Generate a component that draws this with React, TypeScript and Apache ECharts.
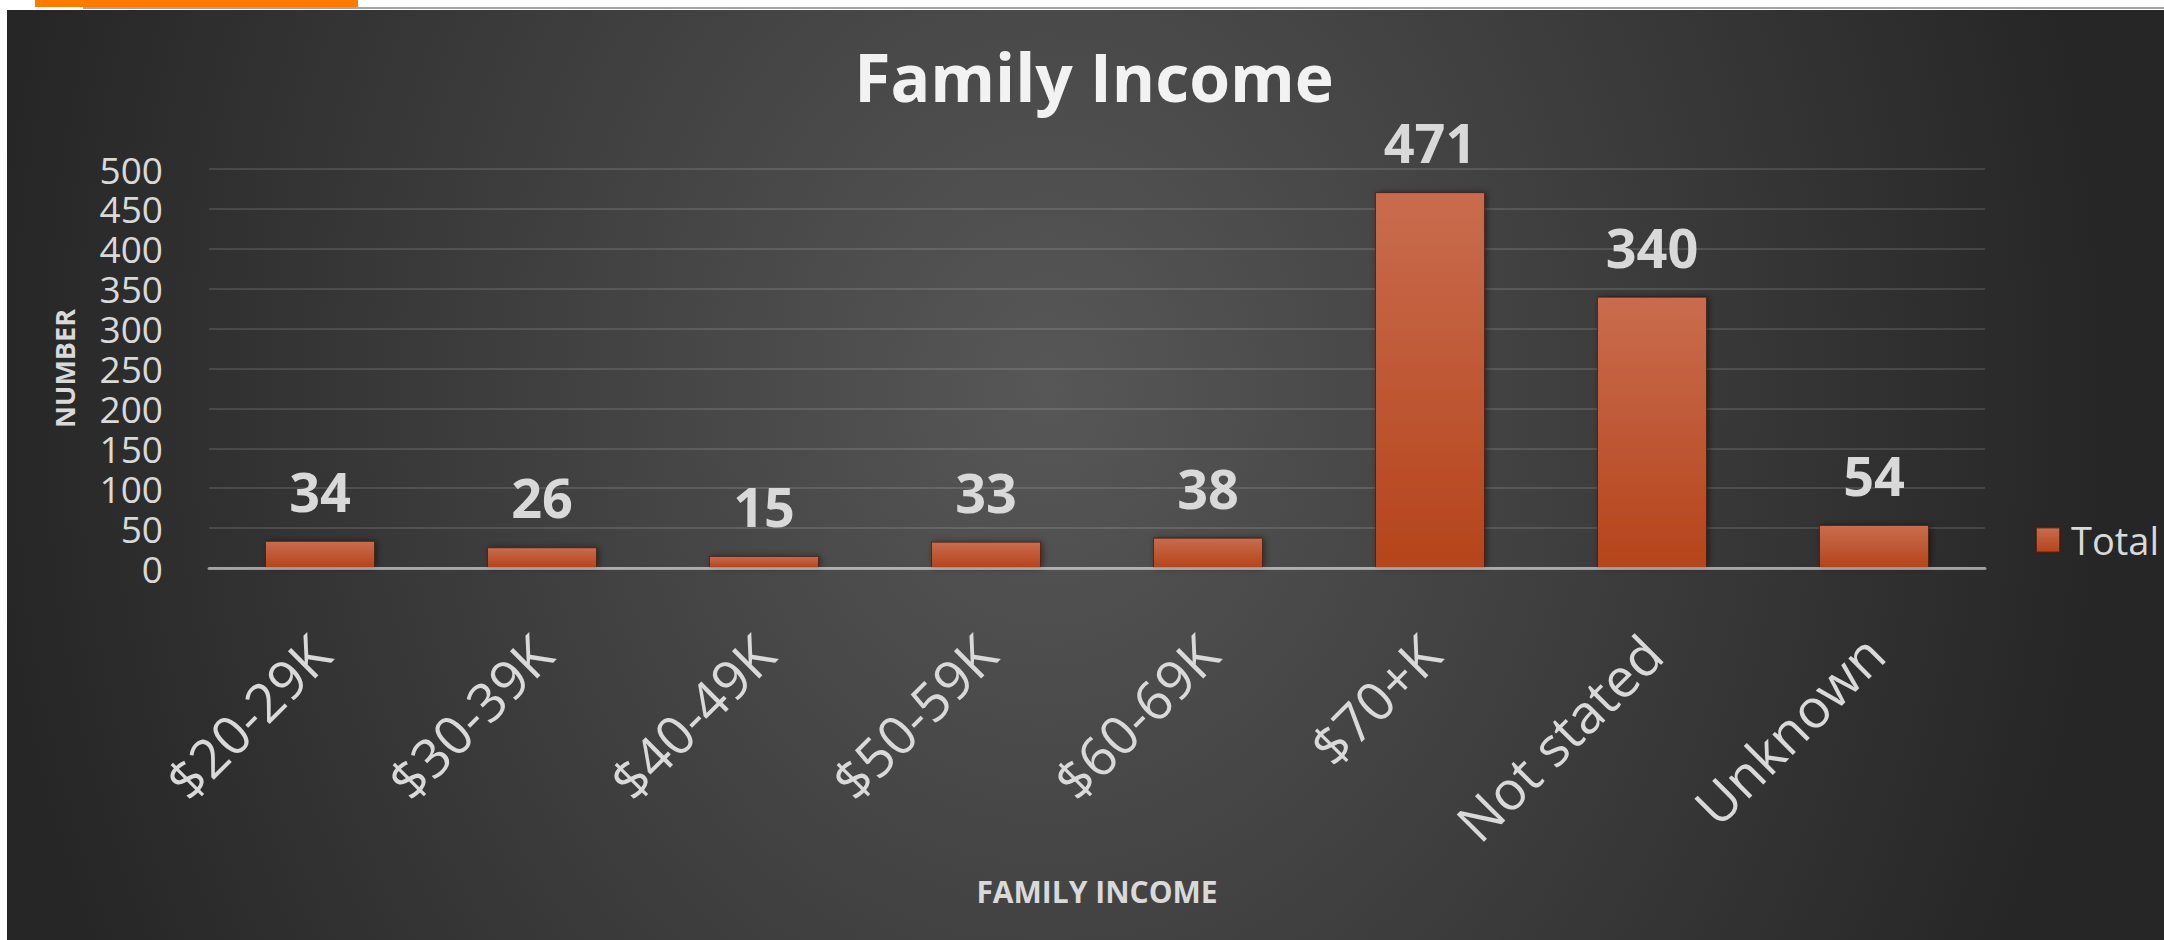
import React, { useEffect, useRef } from "react";
import * as echarts from "echarts";

const categories = ["$20-29K", "$30-39K", "$40-49K", "$50-59K", "$60-69K", "$70+K", "Not stated", "Unknown"];
const totals = [34, 26, 15, 33, 38, 471, 340, 54];
const yMin = 0;
const yMax = 500;
const yInterval = 50;
const seriesName = "Total";
const chartTitle = "Family Income";
const xAxisTitle = "FAMILY INCOME";
const yAxisTitle = "NUMBER";

const FONT = "'Open Sans', 'DejaVu Sans', sans-serif";

export default function App() {
  const ref = useRef<HTMLDivElement>(null);

  useEffect(() => {
    if (!ref.current) return;
    const chart = echarts.init(ref.current, null, { renderer: "svg", width: 2164, height: 940 });
    chart.setOption({
      animation: false,
      backgroundColor: "transparent",
      textStyle: { fontFamily: FONT },
      graphic: [
        {
          type: "text",
          x: 1094,
          y: 76,
          style: {
            text: chartTitle,
            fill: "#f2f2f2",
            fontSize: 66,
            fontWeight: "bold",
            fontFamily: FONT,
            align: "center",
            verticalAlign: "middle",
            textAlign: "center",
            textVerticalAlign: "middle",
            shadowBlur: 4,
            shadowColor: "rgba(0,0,0,0.6)",
            shadowOffsetX: 2,
            shadowOffsetY: 2,
          },
        },
      ],
      legend: {
        data: [seriesName],
        left: 2030,
        top: 516,
        orient: "vertical",
        icon: "rect",
        itemWidth: 24,
        itemHeight: 25,
        textStyle: { color: "#d9d9d9", fontSize: 38, fontFamily: FONT, padding: [0, 0, 0, 6] },
      },
      grid: { left: 209, right: 179, top: 169, bottom: 372, containLabel: false },
      xAxis: {
        type: "category",
        data: categories,
        z: 5,
        axisLine: { lineStyle: { color: "rgba(255,255,255,0.5)", width: 3 } },
        axisTick: { show: false },
        axisLabel: { rotate: 45, margin: 76, fontSize: 54, color: "#d9d9d9", interval: 0, fontFamily: FONT },
        name: xAxisTitle,
        nameLocation: "middle",
        nameGap: 308,
        nameTextStyle: { fontSize: 30, fontWeight: "bold", color: "#d9d9d9", fontFamily: FONT },
      },
      yAxis: {
        type: "value",
        min: yMin,
        max: yMax,
        interval: yInterval,
        axisLine: { show: false },
        axisTick: { show: false },
        splitLine: { lineStyle: { color: "rgba(255,255,255,0.12)", width: 2 } },
        axisLabel: {
          fontSize: 37,
          lineHeight: 32,
          color: "#d9d9d9",
          margin: 46,
          fontFamily: FONT,
          showMinLabel: true,
          showMaxLabel: true,
          hideOverlap: false,
        },
        name: yAxisTitle,
        nameLocation: "middle",
        nameRotate: 90,
        nameGap: 131,
        nameTextStyle: { fontSize: 27, fontWeight: "bold", color: "#d9d9d9", fontFamily: FONT },
      },
      series: [
        {
          type: "bar",
          name: seriesName,
          data: totals,
          barWidth: 110,
          itemStyle: {
            color: new echarts.graphic.LinearGradient(0, 0, 0, 1, [
              { offset: 0, color: "#c96c4e" },
              { offset: 1, color: "#b5441b" },
            ]),
            borderColor: "rgba(60,25,10,0.7)",
            borderWidth: 1,
            shadowBlur: 6,
            shadowColor: "rgba(0,0,0,0.45)",
            shadowOffsetX: 2,
            shadowOffsetY: 0,
          },
          label: {
            show: true,
            position: "top",
            distance: 23,
            fontSize: 54,
            fontWeight: "bold",
            color: "#d9d9d9",
            fontFamily: FONT,
          },
        },
      ],
    });
    return () => chart.dispose();
  }, []);

  return (
    <div style={{ position: "absolute", left: 0, top: 0, width: 2164, height: 940, background: "#ffffff", overflow: "hidden" }}>
      <div style={{ position: "absolute", left: 35, top: 0, width: 323, height: 7, background: "#ff7b00" }} />
      <div style={{ position: "absolute", left: 83, top: 7, width: 2081, height: 2, background: "#a3a3a3" }} />
      <div
        style={{
          position: "absolute",
          left: 7,
          top: 10,
          width: 2157,
          height: 930,
          background: "radial-gradient(ellipse 1060px 1300px at 1040px 380px, #575757 0%, #262626 100%)",
        }}
      />
      <div ref={ref} style={{ position: "absolute", left: 0, top: 0, width: 2164, height: 940 }} />
    </div>
  );
}
